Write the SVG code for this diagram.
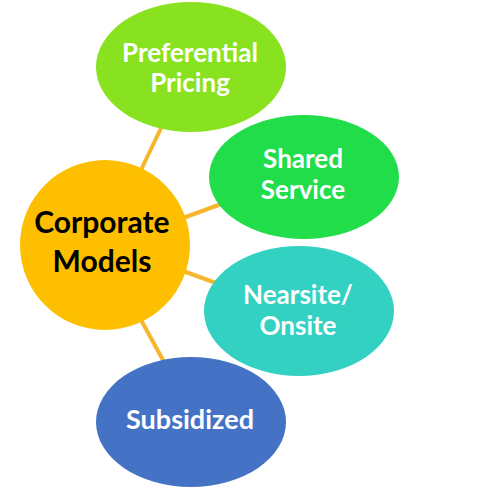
<svg xmlns="http://www.w3.org/2000/svg" width="489" height="489" viewBox="0 0 489 489">
<style>
.lbl{font-family:Lato,"Open Sans","Liberation Sans",sans-serif;font-weight:bold;font-size:26px;text-anchor:middle;fill:#ffffff}
.dark{fill:#000000;font-size:30px}
.big{font-size:27px}
.conn{stroke:#F7B52C;stroke-width:4;fill:none}
</style>
<rect width="489" height="489" fill="#ffffff"/>
<g id="connectors">
<line class="conn" x1="162" y1="126" x2="140" y2="172"/>
<line class="conn" x1="183" y1="218" x2="224" y2="203"/>
<line class="conn" x1="183" y1="271" x2="216" y2="283"/>
<line class="conn" x1="140" y1="318" x2="164" y2="362"/>
</g>
<g id="preferential-pricing">
<ellipse cx="191" cy="67" rx="95" ry="65" fill="#88E21F"/>
<text class="lbl" x="190" y="62">Preferential</text>
<text class="lbl" x="190" y="92">Pricing</text>
</g>
<g id="shared-service">
<ellipse cx="304" cy="177" rx="95" ry="62" fill="#22DD4A"/>
<text class="lbl" x="303" y="168">Shared</text>
<text class="lbl" x="303" y="199">Service</text>
</g>
<g id="corporate-models">
<circle cx="105" cy="245" r="85" fill="#FDBF00"/>
<text class="lbl dark" x="102" y="233">Corporate</text>
<text class="lbl dark" x="102" y="272">Models</text>
</g>
<g id="nearsite-onsite">
<ellipse cx="299" cy="311" rx="95" ry="65" fill="#33D1C2"/>
<text class="lbl" x="298" y="304">Nearsite/</text>
<text class="lbl" x="298" y="335">Onsite</text>
</g>
<g id="subsidized">
<ellipse cx="191" cy="422" rx="95" ry="65" fill="#4472C4"/>
<text class="lbl big" x="190" y="429">Subsidized</text>
</g>
</svg>
